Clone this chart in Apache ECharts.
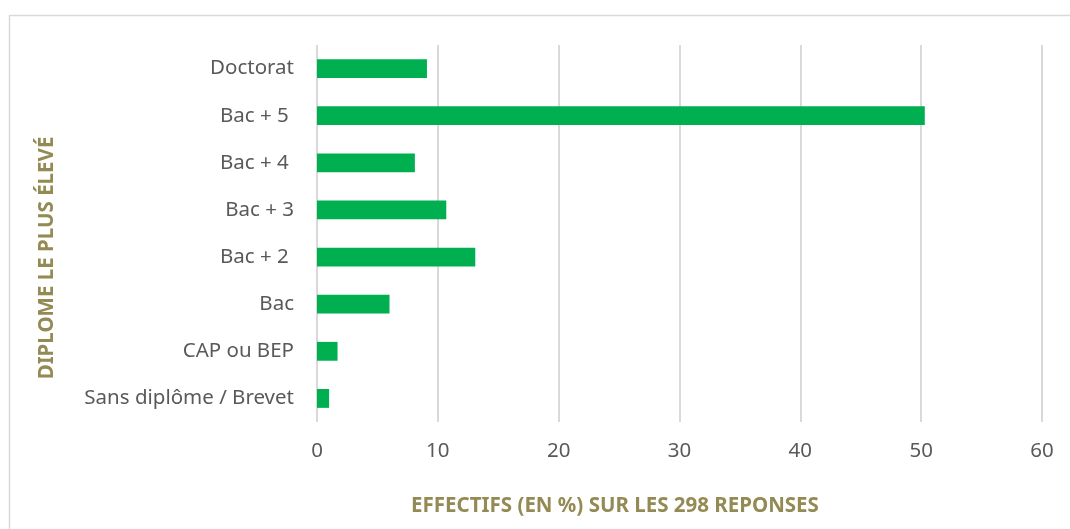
<!DOCTYPE html>
<html>
<head>
<meta charset="utf-8">
<script src="https://cdn.jsdelivr.net/npm/echarts@6/dist/echarts.min.js"></script>
<style>
  html, body { margin: 0; padding: 0; background: #ffffff; }
  #chart { width: 1070px; height: 529px; }
</style>
</head>
<body>
<div id="chart"></div>
<script>
// diplômes, du haut vers le bas
var diplomes = ["Doctorat", "Bac + 5 ", "Bac + 4 ", "Bac + 3", "Bac + 2 ", "Bac", "CAP ou BEP", "Sans diplôme / Brevet"];
var effectifs = [9.1, 50.3, 8.1, 10.7, 13.1, 6.0, 1.7, 1.0];
var xTicks = { min: 0, max: 60, interval: 10 };

var titreX = "EFFECTIFS (EN %) SUR LES 298 REPONSES";
var titreY = "DIPLOME LE PLUS ÉLEVÉ";

var police = "'Noto Sans', sans-serif";
var gris = "#595959";
var olive = "#948A54";

var dom = document.getElementById("chart");
var myChart = echarts.init(dom);
var option = {
  backgroundColor: "#ffffff",
  animation: false,
  grid: { left: 317, right: 28, top: 45, bottom: 107 },
  xAxis: {
    type: "value",
    min: xTicks.min,
    max: xTicks.max,
    interval: xTicks.interval,
    axisLine: { show: false },
    axisTick: { show: false },
    axisLabel: { color: gris, fontFamily: police, fontSize: 20.5, margin: 19 },
    splitLine: { show: true, lineStyle: { color: "#d9d9d9", width: 2 } }
  },
  yAxis: {
    type: "category",
    inverse: true,
    data: diplomes,
    axisLine: { show: false },
    axisTick: { show: false },
    axisLabel: { color: gris, fontFamily: police, fontSize: 20.5, margin: 23 }
  },
  graphic: [
    {
      type: "rect",
      silent: true,
      shape: { x: 9.5, y: 15.5, width: 1100, height: 600 },
      style: { fill: "none", stroke: "#d9d9d9", lineWidth: 1.5 }
    },
    {
      type: "text",
      x: 615,
      y: 506,
      style: {
        text: titreX,
        fill: olive,
        font: "bold 20.5px " + police,
        textAlign: "center",
        textVerticalAlign: "middle"
      }
    },
    {
      type: "text",
      x: 47,
      y: 258,
      rotation: Math.PI / 2,
      style: {
        text: titreY,
        fill: olive,
        font: "bold 20.5px " + police,
        textAlign: "center",
        textVerticalAlign: "middle"
      }
    }
  ],
  series: [
    {
      type: "bar",
      data: effectifs,
      barWidth: "40%",
      itemStyle: { color: "#00B050" }
    }
  ]
};
myChart.setOption(option);
</script>
</body>
</html>
